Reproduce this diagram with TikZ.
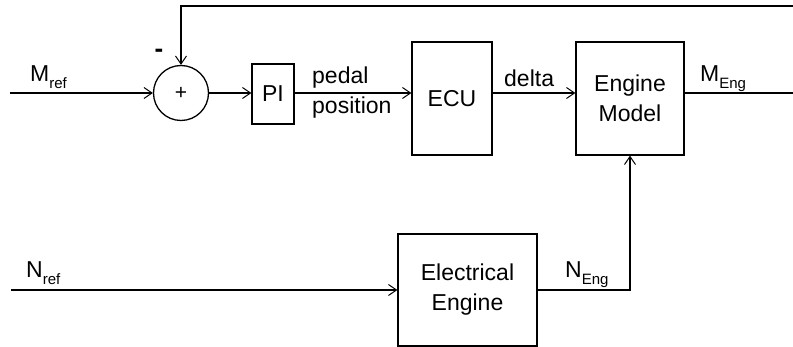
\documentclass[tikz,border=0pt]{standalone}
\usepackage{fontspec}
\setmainfont{Liberation Sans}
\usetikzlibrary{arrows.meta}
\newcommand{\subtxt}[1]{\raisebox{-6.5pt}{\fontsize{15}{15}\selectfont #1}}
\begin{document}
\begin{tikzpicture}[x=1pt,y=-1pt,
  every node/.style={font=\fontsize{23}{30}\selectfont, inner sep=0pt},
  blockbox/.style={draw, line width=1.3pt, inner sep=0pt},
  sig/.style={line width=1.3pt},
  arr/.style={sig, -{Straight Barb[length=8pt,width=11pt,line width=1pt]}},
  lbl/.style={anchor=base west}]
\useasboundingbox (0,0) rectangle (793,347);
% blocks
\node[blockbox, circle, minimum size=55pt] (sum) at (181,93) {\fontsize{21}{21}\selectfont +};
\node[blockbox, minimum width=42pt, minimum height=60pt] (pi) at (273,94) {PI};
\node[blockbox, minimum width=80pt, minimum height=113pt] (ecu) at (452,98.5) {ECU};
\node[blockbox, minimum width=108pt, minimum height=113pt, align=center] (em) at (630,98.5) {Engine\\Model};
\node[blockbox, minimum width=139pt, minimum height=112pt, align=center] (ee) at (467.5,290) {Electrical\\Engine};
% free ends
\coordinate (min) at (10,93);
\coordinate (mout) at (793,93);
\coordinate (fb) at (793,6);
\coordinate (nin) at (11,290);
% connectors
\draw[arr] (min) -- (sum);
\draw[arr] (fb) -- (fb -| sum) -- (sum);
\draw[arr] (sum) -- (sum -| pi.west);
\draw[arr] (pi.east |- sum) -- (sum -| ecu.west);
\draw[arr] (ecu.east |- sum) -- (sum -| em.west);
\draw[sig] (em.east |- sum) -- (mout);
\draw[arr] (nin) -- (ee);
\draw[arr] (ee.east) -| (em.south);
% labels
\node[lbl] (mref) at (30,82) {M\subtxt{ref}};
\node[lbl] (meng) at (700,82) {M\subtxt{Eng}};
\node[lbl] (nref) at (26,278) {N\subtxt{ref}};
\node[lbl] (neng) at (565,278) {N\subtxt{Eng}};
\node (minus) at (159,53) {\fontsize{26}{26}\selectfont\bfseries -};
\node[lbl] (delta) at (504,87) {delta};
\node[align=left, anchor=west] (pedal) at (312,93) {pedal\\position};
\end{tikzpicture}
\end{document}
